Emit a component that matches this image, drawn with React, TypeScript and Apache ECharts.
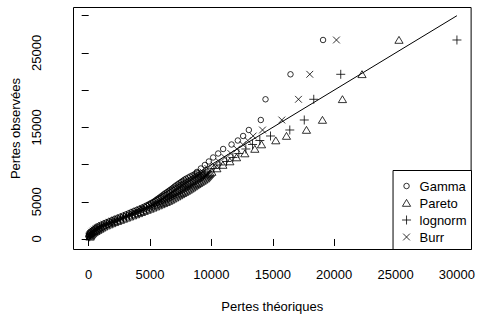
import React, { useEffect, useRef } from "react";
import * as echarts from "echarts";

// Observed losses (shared empirical quantiles), ascending
const observedBody = [300, 450, 600, 750, 900, 1050, 1200, 1350, 1500, 1650, 1800, 1950, 2100, 2250, 2400, 2550, 2700, 2850, 3000, 3150, 3300, 3450, 3600, 3750, 3900, 4050, 4200, 4350, 4500, 4650, 4800, 4950, 5100, 5250, 5400, 5550, 5700, 5850, 6000, 6150, 6300, 6450, 6600, 6750, 6900, 7050, 7200, 7350, 7500, 7650, 7800, 7950, 8100, 8250, 8400, 8550, 8700, 8850];
const observedTail = [9001, 9472, 9942, 10412, 10950, 11487, 12092, 12696, 13233, 13838, 14644, 15988, 18769, 22127, 26736];

// Theoretical quantiles per fitted distribution
const gammaBody = [0, 10, 30, 80, 140, 230, 340, 460, 570, 700, 870, 1060, 1260, 1470, 1690, 1910, 2130, 2360, 2590, 2820, 3040, 3260, 3470, 3680, 3900, 4120, 4330, 4530, 4710, 4890, 5060, 5230, 5380, 5510, 5630, 5760, 5890, 6010, 6130, 6250, 6390, 6520, 6650, 6780, 6900, 7010, 7130, 7270, 7390, 7530, 7660, 7790, 7930, 8110, 8270, 8450, 8630, 8790];
const gammaTail = [8815, 9140, 9466, 9791, 10141, 10548, 10955, 11639, 12151, 12583, 13047, 14023, 14406, 16441, 19094];
const paretoBody = [120, 170, 230, 320, 440, 590, 740, 900, 1050, 1220, 1430, 1660, 1880, 2110, 2350, 2590, 2830, 3080, 3330, 3580, 3820, 4060, 4290, 4520, 4760, 5000, 5230, 5450, 5670, 5890, 6100, 6310, 6500, 6670, 6830, 7000, 7170, 7330, 7490, 7650, 7810, 7960, 8110, 8260, 8400, 8530, 8670, 8810, 8950, 9090, 9240, 9370, 9510, 9590, 9670, 9750, 9830, 9910];
const paretoTail = [10035, 10442, 10931, 11500, 12046, 12721, 13535, 14080, 15244, 16115, 17743, 19045, 20673, 22268, 25280];
const lognormBody = [80, 120, 160, 240, 340, 470, 610, 750, 890, 1050, 1240, 1460, 1670, 1900, 2130, 2360, 2600, 2840, 3080, 3330, 3560, 3790, 4020, 4240, 4470, 4710, 4930, 5140, 5350, 5560, 5750, 5950, 6130, 6280, 6430, 6590, 6740, 6890, 7040, 7180, 7340, 7480, 7620, 7770, 7900, 8020, 8160, 8300, 8430, 8570, 8710, 8840, 8980, 9100, 9200, 9320, 9430, 9540];
const lognormTail = [9710, 10198, 10687, 11232, 11745, 12233, 12803, 13348, 13942, 14813, 16384, 17564, 18337, 20535, 30000];
const burrBody = [40, 60, 100, 160, 240, 350, 470, 610, 730, 870, 1060, 1260, 1470, 1680, 1910, 2140, 2360, 2600, 2840, 3070, 3300, 3530, 3740, 3960, 4190, 4410, 4630, 4840, 5030, 5220, 5410, 5590, 5750, 5900, 6030, 6170, 6320, 6450, 6580, 6720, 6860, 7000, 7140, 7270, 7400, 7520, 7640, 7780, 7910, 8050, 8190, 8320, 8460, 8600, 8740, 8880, 9030, 9160];
const burrTail = [9303, 9710, 10198, 10605, 11094, 11582, 12070, 12559, 12965, 13397, 14162, 15733, 17092, 18012, 20185];

const seriesNames = ["Gamma", "Pareto", "lognorm", "Burr"];
const refLine = [0, 30000];
const tickValues = [0, 5000, 10000, 15000, 20000, 25000, 30000];
const yLabelValues = [0, 5000, 15000, 25000];

const FONT = "'Liberation Sans', Arial, Helvetica, sans-serif";

// symbols in a common 10x10 frame
const SYM_CIRCLE = "path://M-5,-5M5,5M2.75,0A2.75,2.75,0,1,1,-2.75,0A2.75,2.75,0,1,1,2.75,0Z";
const SYM_TRIANGLE = "path://M-5,-5M5,5M0,-3.6L4.1,3.3L-4.1,3.3Z";
const SYM_PLUS = "path://M-5,-5M5,5M-4.5,0L4.5,0M0,-4.5L0,4.5";
const SYM_CROSS = "path://M-5,-5M5,5M-3.4,-3.4L3.4,3.4M3.4,-3.4L-3.4,3.4";

function pairs(xs: number[], ys: number[]) {
  return xs.map((x, i) => [x, ys[i]]);
}

export default function App() {
  const ref = useRef<HTMLDivElement>(null);
  useEffect(() => {
    if (!ref.current) return;
    const chart = echarts.init(ref.current, null, { renderer: "svg" });
    const observed = [...observedBody, ...observedTail];
    const dists = [
      { name: seriesNames[0], x: [...gammaBody, ...gammaTail], sym: SYM_CIRCLE },
      { name: seriesNames[1], x: [...paretoBody, ...paretoTail], sym: SYM_TRIANGLE },
      { name: seriesNames[2], x: [...lognormBody, ...lognormTail], sym: SYM_PLUS },
      { name: seriesNames[3], x: [...burrBody, ...burrTail], sym: SYM_CROSS },
    ];
    const markerStyle = { color: "rgba(0,0,0,0)", borderColor: "#000", borderWidth: 1 };
    chart.setOption({
      animation: false,
      backgroundColor: "#fff",
      textStyle: { fontFamily: FONT },
      grid: {
        left: 73.5,
        right: 6.5,
        top: 7.5,
        bottom: 70.5,
        show: true,
        borderColor: "#000",
        borderWidth: 1,
        backgroundColor: "rgba(0,0,0,0)",
      },
      xAxis: {
        type: "value",
        min: -1237,
        max: 31156,
        name: "Pertes théoriques",
        nameLocation: "middle",
        nameGap: 50,
        nameTextStyle: { fontSize: 13, color: "#000", fontFamily: FONT },
        splitLine: { show: false },
        axisLine: { show: false },
        axisTick: { show: true, length: 7, lineStyle: { color: "#000" }, customValues: tickValues },
        axisLabel: { fontSize: 13, color: "#000", margin: 18, fontFamily: FONT, customValues: tickValues, formatter: (v: number) => String(v) },
      },
      yAxis: {
        type: "value",
        min: -1411,
        max: 31102,
        name: "Pertes observées",
        nameLocation: "middle",
        nameGap: 47,
        nameRotate: 90,
        nameTextStyle: { fontSize: 13, color: "#000", fontFamily: FONT },
        splitLine: { show: false },
        axisLine: { show: false },
        axisTick: { show: true, length: 7, lineStyle: { color: "#000" }, customValues: tickValues },
        axisLabel: { fontSize: 13, color: "#000", margin: 31, rotate: 90, fontFamily: FONT, customValues: yLabelValues, formatter: (v: number) => String(v) },
      },
      legend: {
        data: dists.map((d) => ({ name: d.name, icon: d.sym })),
        orient: "vertical",
        right: 6.5,
        bottom: 70.5,
        itemWidth: 10,
        itemHeight: 10,
        itemGap: 4,
        padding: [9, 5, 6, 8],
        borderColor: "#000",
        borderWidth: 1,
        backgroundColor: "#fff",
        selectedMode: false,
        itemStyle: { color: "rgba(0,0,0,0)", borderColor: "#000", borderWidth: 1 },
        textStyle: { fontSize: 13, color: "#000", fontFamily: FONT, padding: [0, 0, 0, 3] },
      },
      series: [
        ...dists.map((d) => ({
          name: d.name,
          type: "scatter",
          symbol: d.sym,
          symbolSize: 10,
          itemStyle: markerStyle,
          data: pairs(d.x, observed),
          silent: true,
          z: 2,
        })),
        {
          name: "ref",
          type: "line",
          data: pairs(refLine, refLine),
          symbol: "none",
          lineStyle: { color: "#000", width: 1 },
          silent: true,
          z: 3,
        },
      ],
    });
    return () => chart.dispose();
  }, []);
  return <div ref={ref} style={{ position: "fixed", left: 0, top: 0, width: 478, height: 320 }} />;
}
